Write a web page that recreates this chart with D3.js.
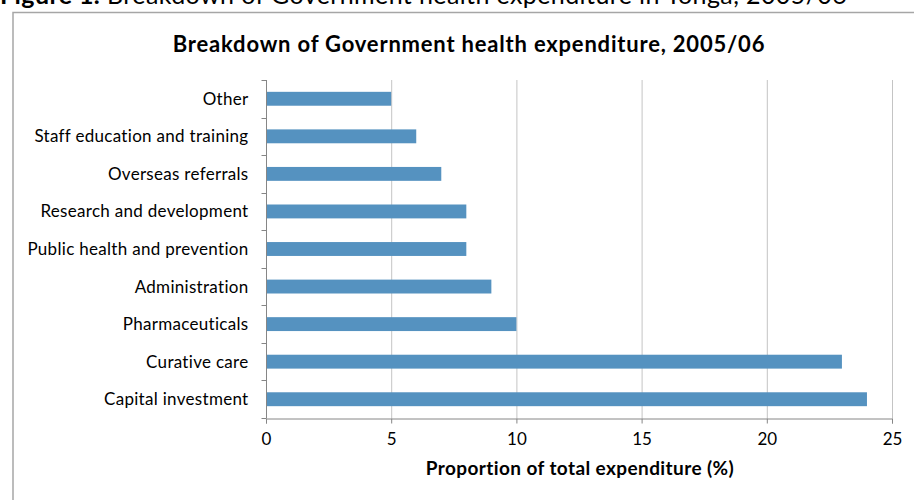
<!DOCTYPE html>
<html>
<head>
<meta charset="utf-8">
<script src="https://cdn.jsdelivr.net/npm/d3@7"></script>
<style>
  body { margin: 0; background: #fff; }
  text { font-family: Lato, "Open Sans", sans-serif; fill: #000; }
</style>
</head>
<body>
<div id="chart"></div>
<script>
// data
var categories = ["Other", "Staff education and training", "Overseas referrals",
    "Research and development", "Public health and prevention", "Administration",
    "Pharmaceuticals", "Curative care", "Capital investment"];
var values = [5, 6, 7, 8, 8, 9, 10, 23, 24];
var xTicks = [0, 5, 10, 15, 20, 25];

var W = 914, H = 500;
var plot = {left: 266, right: 892, top: 80, bottom: 418};

var svg = d3.select("#chart").append("svg")
    .attr("width", W)
    .attr("height", H);

// figure caption, cut off at the top of the page
var cap = svg.append("text")
    .attr("x", 0)
    .attr("y", 4)
    .style("font-size", "25px")
    .style("letter-spacing", "0.4px");
cap.append("tspan").style("font-weight", "bold").text("Figure 1.");
cap.append("tspan").text(" Breakdown of Government health expenditure in Tonga, 2005/06");

// chart border
svg.append("rect")
    .attr("x", 13).attr("y", 12.5)
    .attr("width", W + 10).attr("height", H)
    .attr("fill", "none")
    .attr("stroke", "#a6a6a6")
    .attr("stroke-width", 1.5);

svg.append("text")
    .attr("x", 469)
    .attr("y", 52)
    .attr("text-anchor", "middle")
    .style("font-size", "22px")
    .style("font-weight", "bold")
    .style("letter-spacing", "0.8px")
    .text("Breakdown of Government health expenditure, 2005/06");

var x = d3.scaleLinear().domain([0, 25]).range([plot.left, plot.right]);
var y = d3.scaleBand().domain(categories).range([plot.top, plot.bottom]).paddingInner(0.63).paddingOuter(0.315);

// gridlines
svg.append("g")
    .selectAll("line")
    .data(xTicks.slice(1))
    .enter().append("line")
    .attr("x1", function (d) { return x(d) + 0.5; })
    .attr("x2", function (d) { return x(d) + 0.5; })
    .attr("y1", plot.top)
    .attr("y2", plot.bottom)
    .attr("stroke", "#c4c4c4")
    .attr("stroke-width", 1);

// bars
svg.append("g")
    .selectAll("rect")
    .data(values)
    .enter().append("rect")
    .attr("x", x(0))
    .attr("y", function (d, i) { return y(categories[i]); })
    .attr("width", function (d) { return x(d) - x(0); })
    .attr("height", y.bandwidth())
    .attr("fill", "#5592c0");

// x axis
var xAxis = svg.append("g")
    .attr("transform", "translate(0," + (plot.bottom + 0.5) + ")")
    .call(d3.axisBottom(x).tickValues(xTicks).tickSizeOuter(0).tickSize(5).tickPadding(9));
xAxis.selectAll("path, line").attr("stroke", "#868686");
xAxis.selectAll("text").style("font-size", "17px").style("font-family", "Lato, sans-serif");

// y axis, ticks sit between the categories
var yAxis = svg.append("g")
    .attr("transform", "translate(" + (plot.left + 0.5) + ",0)");
yAxis.append("line")
    .attr("x1", 0).attr("x2", 0)
    .attr("y1", plot.top).attr("y2", plot.bottom)
    .attr("stroke", "#868686");
var step = (plot.bottom - plot.top) / categories.length;
yAxis.selectAll("line.tk")
    .data(d3.range(categories.length + 1))
    .enter().append("line")
    .attr("class", "tk")
    .attr("x1", -5).attr("x2", 0)
    .attr("y1", function (i) { return Math.round(plot.top + i * step) + 0.5; })
    .attr("y2", function (i) { return Math.round(plot.top + i * step) + 0.5; })
    .attr("stroke", "#868686");
yAxis.selectAll("text")
    .data(categories)
    .enter().append("text")
    .attr("x", -18)
    .attr("y", function (d) { return y(d) + y.bandwidth() / 2; })
    .attr("dy", "0.35em")
    .attr("text-anchor", "end")
    .style("font-size", "17px")
    .style("letter-spacing", "0.3px")
    .text(function (d) { return d; });

svg.append("text")
    .attr("x", 580)
    .attr("y", 475)
    .attr("text-anchor", "middle")
    .style("font-size", "19px")
    .style("font-weight", "bold")
    .style("letter-spacing", "0.4px")
    .text("Proportion of total expenditure (%)");
</script>
</body>
</html>
